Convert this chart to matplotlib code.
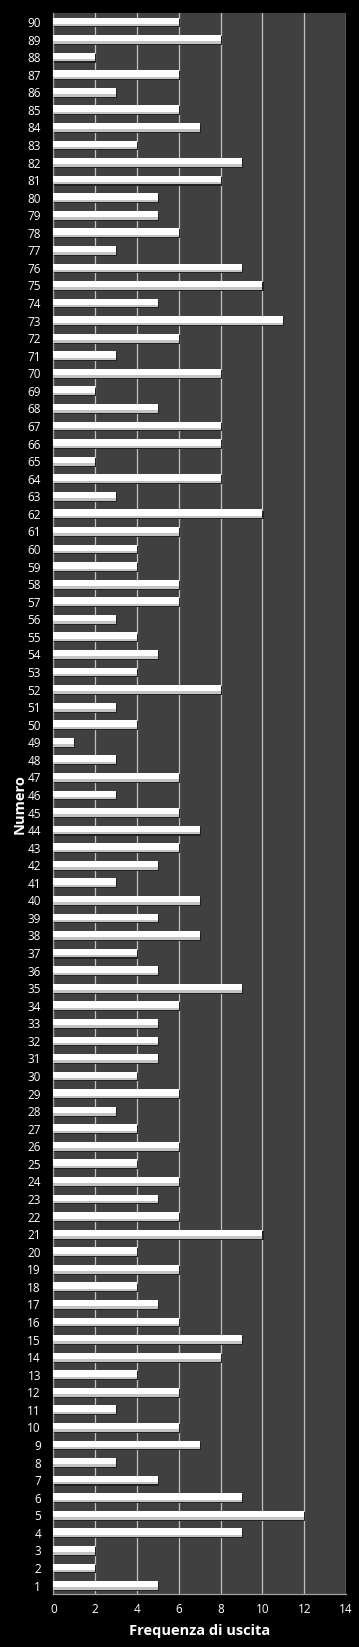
import matplotlib
matplotlib.use("Agg")
import matplotlib.pyplot as plt
import numpy as np

numeri = list(range(1, 91))
frequenze = [5, 2, 2, 9, 12, 9, 5, 3, 7, 6,
             3, 6, 4, 8, 9, 6, 5, 4, 6, 4,
             10, 6, 5, 6, 4, 6, 4, 3, 6, 4,
             5, 5, 5, 6, 9, 5, 4, 7, 5, 7,
             3, 5, 6, 7, 6, 3, 6, 3, 1, 4,
             3, 8, 4, 5, 4, 3, 6, 6, 4, 4,
             6, 10, 3, 8, 2, 8, 8, 5, 2, 8,
             3, 6, 11, 5, 10, 9, 3, 6, 5, 5,
             8, 9, 4, 7, 6, 3, 6, 2, 8, 6]
x_ticks = [0, 2, 4, 6, 8, 10, 12, 14]

plt.rcParams['font.family'] = ['Open Sans', 'DejaVu Sans']

fig = plt.figure(figsize=(3.59, 16.47), dpi=100, facecolor='black')
ax = fig.add_axes([0.149, 0.032, 0.815, 0.96])
ax.set_facecolor('#404040')

y = np.array(numeri)
vals = np.array(frequenze)
# shadow
ax.barh(y - 0.06, vals + 0.05, height=0.5, color='#222222', zorder=2)
# main bar
ax.barh(y, vals, height=0.5, color='white', zorder=3)
# lower shading strip
ax.barh(y - 0.18, vals, height=0.14, color='#c4c4c4', zorder=4)

ax.set_xlim(0, 14)
ax.set_ylim(0.5, 90.5)
ax.set_xticks(x_ticks)
ax.set_yticks(numeri)
ax.set_yticklabels([str(n) for n in numeri])
ax.xaxis.grid(True, color='#c0c0c0', linewidth=0.9, zorder=1)
ax.set_axisbelow(True)
ax.tick_params(axis='both', colors='white', labelsize=8.5, length=0, pad=6)
ax.tick_params(axis='y', pad=9)
for s in ['top', 'right']:
    ax.spines[s].set_visible(False)
for s in ['left', 'bottom']:
    ax.spines[s].set_color('#a0a0a0')
    ax.spines[s].set_linewidth(0.9)

ax.set_xlabel('Frequenza di uscita', color='white', fontsize=10.5, fontweight='bold', labelpad=6)
ax.set_ylabel('Numero', color='white', fontsize=10.5, fontweight='bold')
ax.yaxis.set_label_coords(-0.092, 0.5)

fig.savefig('out.png', dpi=100, facecolor='black')
